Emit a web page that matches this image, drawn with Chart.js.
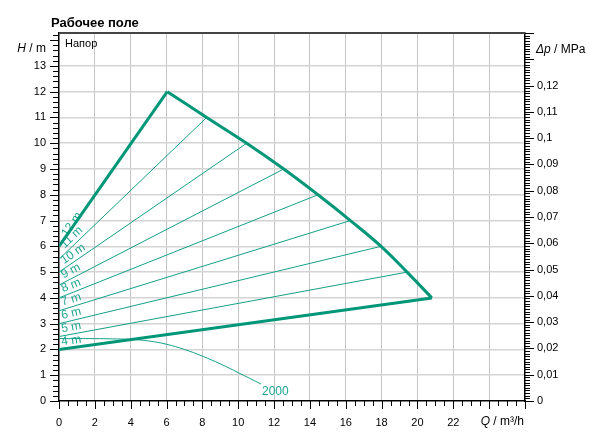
<!DOCTYPE html>
<html>
<head>
<meta charset="utf-8">
<script src="https://cdn.jsdelivr.net/npm/chart.js@4"></script>
<style>
  body { margin: 0; background: #fff; }
</style>
</head>
<body>
<canvas id="myChart" width="589" height="437"></canvas>
<script>
// speed lines (Δp-v): each starts at half height at Q=0 and ends on the max curve
const speedLabels = ['12 m', '11 m', '10 m', '9 m', '8 m', '7 m', '6 m', '5 m', '4 m'];
const speedStartH = [6, 5.5, 5, 4.5, 4, 3.5, 3, 2.5, 2];
// max curve points (end of each speed line)
const maxCurveQ = [6.04, 8.24, 10.47, 12.54, 14.45, 16.26, 17.97, 19.42, 20.8];
const maxCurveH = [12, 11, 10, 9, 8, 7, 6, 5, 4];
// "2000" curve
const curve2000Q = [0, 2, 3, 4, 5, 6, 7, 8, 9, 10, 11.27];
const curve2000H = [2.42, 2.42, 2.41, 2.39, 2.33, 2.2, 2.0, 1.74, 1.44, 1.1, 0.66];
const curve2000Label = '2000';

const mpaPerM = 0.0098067
const dpMax = 0.14
const hMax = dpMax / mpaPerM
const qMax = 26

let thick = 'rgb(0, 150, 120)'
let thin = 'rgb(20, 160, 135)'
let labelColor = 'rgb(30, 165, 145)'
let font = '"Liberation Sans", Arial, sans-serif'

const datasets = []

// thin speed lines 11 m .. 5 m
for (let i = 1; i < speedLabels.length - 1; i++) {
    datasets.push({
        label: speedLabels[i],
        data: [{ x: 0, y: speedStartH[i] }, { x: maxCurveQ[i], y: maxCurveH[i] }],
        showLine: true,
        borderColor: thin,
        borderWidth: 1,
        pointRadius: 0,
        order: 2
    })
}

datasets.push({
    label: curve2000Label,
    data: curve2000Q.map((q, i) => ({ x: q, y: curve2000H[i] })),
    showLine: true,
    borderColor: thin,
    borderWidth: 1,
    pointRadius: 0,
    tension: 0.4,
    order: 2
})

// thick envelope: 12 m line, max curve, 4 m line
datasets.push({
    label: speedLabels[0],
    data: [{ x: 0, y: speedStartH[0] }, { x: maxCurveQ[0], y: maxCurveH[0] }],
    showLine: true,
    borderColor: thick,
    borderWidth: 3,
    pointRadius: 0,
    order: 0
})
datasets.push({
    label: 'max',
    data: maxCurveQ.map((q, i) => ({ x: q, y: maxCurveH[i] })),
    showLine: true,
    borderColor: thick,
    borderWidth: 3,
    pointRadius: 0,
    tension: 0.4,
    order: 0
})
const last = speedLabels.length - 1
datasets.push({
    label: speedLabels[last],
    data: [{ x: 0, y: speedStartH[last] }, { x: maxCurveQ[last], y: maxCurveH[last] }],
    showLine: true,
    borderColor: thick,
    borderWidth: 3,
    pointRadius: 0,
    order: 0
})

const fmtComma = v => Number(v.toFixed(3)).toString().replace('.', ',')

const decor = {
    id: 'decor',
    beforeDatasetsDraw(chart) {
        const ctx = chart.ctx
        const xs = chart.scales.x, ys = chart.scales.y
        ctx.save()
        ctx.fillStyle = labelColor
        ctx.font = '12px ' + font
        ctx.textAlign = 'left'
        ctx.textBaseline = 'bottom'
        for (let i = 0; i < speedLabels.length; i++) {
            const x0 = xs.getPixelForValue(0), y0 = ys.getPixelForValue(speedStartH[i])
            const x1 = xs.getPixelForValue(maxCurveQ[i]), y1 = ys.getPixelForValue(maxCurveH[i])
            const ang = Math.atan2(y1 - y0, x1 - x0)
            // keep the rotated text right of the axis
            const h = i == 0 ? 6 : 9
            const along = (2 + h * Math.sin(-ang)) / Math.cos(ang)
            ctx.save()
            ctx.translate(x0, y0)
            ctx.rotate(ang)
            ctx.fillText(speedLabels[i], along, i == 0 ? 4 : -1)
            ctx.restore()
        }
        ctx.restore()
    },
    afterDraw(chart) {
        const ctx = chart.ctx
        const a = chart.chartArea
        const xs = chart.scales.x, ys = chart.scales.y, y2 = chart.scales.y2
        ctx.save()

        // top frame
        ctx.strokeStyle = '#444'
        ctx.lineWidth = 2
        ctx.beginPath()
        ctx.moveTo(a.left, a.top)
        ctx.lineTo(a.right, a.top)
        ctx.stroke()

        // tick marks
        ctx.strokeStyle = '#000'
        ctx.lineWidth = 1
        ctx.beginPath()
        for (let k = 0; k <= Math.floor(hMax * 5); k++) {
            const py = Math.round(ys.getPixelForValue(k / 5)) + 0.5
            const len = k % 5 == 0 ? 9 : 6
            ctx.moveTo(a.left - len, py)
            ctx.lineTo(a.left, py)
        }
        for (let k = 0; k <= qMax * 2; k++) {
            const px = Math.round(xs.getPixelForValue(k / 2)) + 0.5
            const len = k % 4 == 0 ? 8 : 5
            ctx.moveTo(px, a.bottom)
            ctx.lineTo(px, a.bottom + len)
        }
        for (let k = 0; k <= 140; k++) {
            const py = Math.round(y2.getPixelForValue(k / 1000)) + 0.5
            const len = k % 10 == 0 ? 9 : 5
            ctx.moveTo(a.right, py)
            ctx.lineTo(a.right + len, py)
        }
        ctx.stroke()

        // texts
        ctx.fillStyle = '#000'
        ctx.textBaseline = 'middle'
        ctx.font = 'bold 13px ' + font
        ctx.textAlign = 'left'
        ctx.fillText('Рабочее поле', 51, 23)
        ctx.font = '11px ' + font
        ctx.fillText('Напор', 65, 44)

        // axis titles
        const title = (parts, x, y, align) => {
            let w = 0
            parts.forEach(p => { ctx.font = (p[1] ? 'italic ' : '') + '12px ' + font; w += ctx.measureText(p[0]).width })
            let cx = align == 'right' ? x - w : x
            ctx.textAlign = 'left'
            parts.forEach(p => {
                ctx.font = (p[1] ? 'italic ' : '') + '12px ' + font
                ctx.fillText(p[0], cx, y)
                cx += ctx.measureText(p[0]).width
            })
        }
        title([['H', true], [' / m', false]], 46, 49, 'right')
        title([['Δp', true], [' / MPa', false]], 536, 50, 'left')
        title([['Q', true], [' / m³/h', false]], 524, 422, 'right')

        // 2000 label
        const n = curve2000Q.length - 1
        ctx.fillStyle = labelColor
        ctx.font = '12px ' + font
        ctx.textAlign = 'left'
        ctx.fillText(curve2000Label, xs.getPixelForValue(curve2000Q[n]) + 1, ys.getPixelForValue(curve2000H[n]) + 8)
        ctx.restore()
    }
}

const config = {
    type: 'scatter',
    data: { datasets: datasets },
    plugins: [decor],
    options: {
        responsive: false,
        animation: false,
        layout: { padding: { top: 33, left: 0, right: 0, bottom: 0 } },
        plugins: {
            legend: { display: false },
            tooltip: { enabled: false }
        },
        scales: {
            x: {
                type: 'linear',
                min: 0,
                max: qMax,
                afterFit(s) { s.height = 36 },
                border: { color: '#000', width: 1.5 },
                grid: {
                    drawTicks: false,
                    color: ctx => (ctx.tick && (ctx.tick.value == 0 || ctx.tick.value == qMax)) ? 'rgba(0,0,0,0)' : '#c4c4c4',
                    lineWidth: 1
                },
                ticks: {
                    stepSize: 2,
                    padding: 15,
                    color: '#000',
                    font: { size: 11, family: font },
                    callback: v => v <= 22 ? v : ''
                }
            },
            y: {
                type: 'linear',
                min: 0,
                max: hMax,
                afterFit(s) { s.width = 59 },
                border: { color: '#000', width: 1.5 },
                grid: {
                    drawTicks: false,
                    color: ctx => (ctx.tick && (ctx.tick.value == 0 || ctx.tick.value >= 14)) ? 'rgba(0,0,0,0)' : '#d4d4d4',
                    lineWidth: 1.5
                },
                ticks: {
                    stepSize: 1,
                    padding: 13,
                    color: '#000',
                    font: { size: 11, family: font },
                    callback: v => v <= 13 ? v : ''
                }
            },
            y2: {
                type: 'linear',
                position: 'right',
                min: 0,
                max: dpMax,
                afterFit(s) { s.width = 64 },
                border: { color: '#000', width: 1.5 },
                grid: { display: false, drawTicks: false },
                ticks: {
                    stepSize: 0.01,
                    padding: 12,
                    color: '#000',
                    font: { size: 11, family: font },
                    callback: v => v <= 0.1201 ? fmtComma(v) : ''
                }
            }
        }
    }
}

const myChart = new Chart(document.getElementById('myChart'), config)
</script>
</body>
</html>
